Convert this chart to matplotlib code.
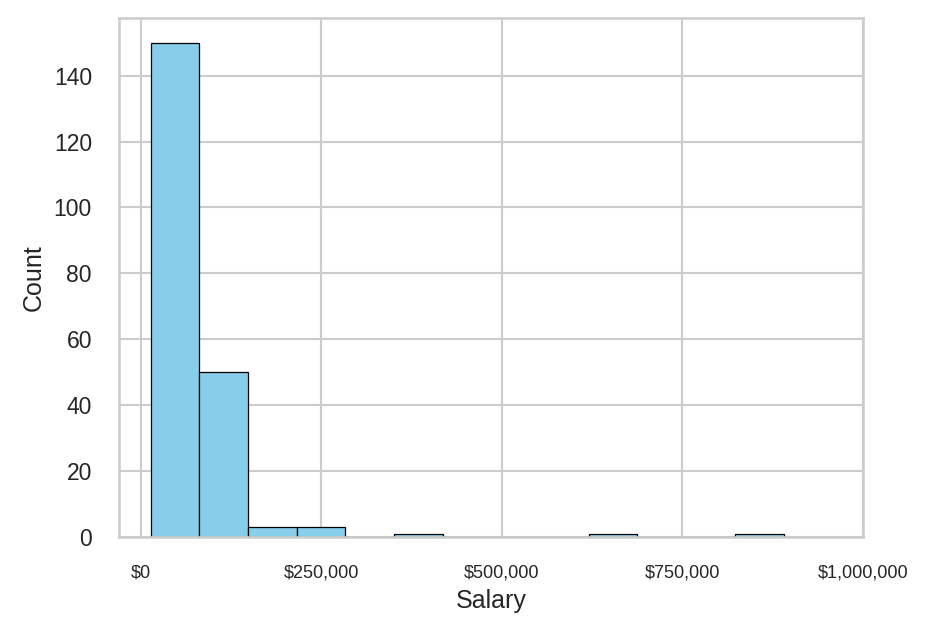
import numpy as np
import matplotlib
matplotlib.use("Agg")
import matplotlib.pyplot as plt
import matplotlib.ticker as mticker
import seaborn as sns

# histogram counts (13 equal-width bins)
counts = [150, 50, 3, 3, 0, 1, 0, 0, 0, 1, 0, 0, 1]
salary_min = 14000
salary_max = 890000
xtick_values = [0, 250000, 500000, 750000, 1000000]

sns.set_theme(style="whitegrid")
plt.rcParams['font.family'] = ['Liberation Sans', 'DejaVu Sans']
plt.rcParams['xtick.major.pad'] = 7
plt.rcParams['ytick.major.pad'] = 7

edges = np.linspace(salary_min, salary_max, len(counts) + 1)
mids = (edges[:-1] + edges[1:]) / 2

fig, ax = plt.subplots(figsize=(929 / 150, 633 / 150), dpi=150)
fig.subplots_adjust(left=119 / 929, right=863 / 929, top=1 - 18 / 633, bottom=1 - 537 / 633)

ax.hist(mids, bins=edges, weights=counts, color="skyblue", edgecolor="black", linewidth=0.6)
ax.set_xticks(xtick_values)
ax.xaxis.set_major_formatter(mticker.StrMethodFormatter("${x:,.0f}"))
ax.tick_params(axis="x", labelsize=8.7)
ax.set_xlabel("Salary")
ax.set_ylabel("Count")

fig.savefig("out.png", dpi=150)
